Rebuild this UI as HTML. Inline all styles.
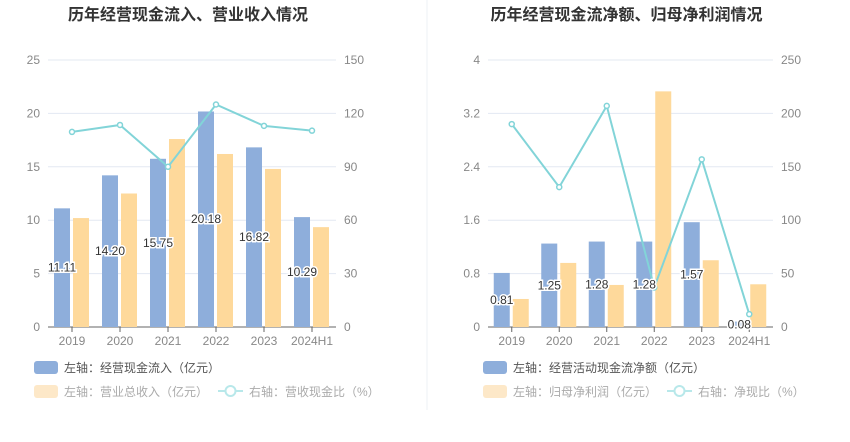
<!DOCTYPE html>
<html><head><meta charset="utf-8"><style>
body{margin:0;background:#fff;font-family:"Liberation Sans","Noto Sans CJK SC",sans-serif;}
svg text{font-family:"Liberation Sans","Noto Sans CJK SC",sans-serif;}
</style></head><body>
<svg id="c" width="850" height="437">
<line x1="427" y1="0" x2="427" y2="410" stroke="#eef0f4"/>
</svg>
<script>
const cats=["2019","2020","2021","2022","2023","2024H1"];
const inflow=[11.11,14.20,15.75,20.18,16.82,10.29];
const revenue=[10.2,12.5,17.6,16.2,14.8,9.35];
const ratioL=[109.6,113.5,90,125,113,110.3];
const netCash=[0.81,1.25,1.28,1.28,1.57,0.08];
const profit=[0.42,0.96,0.63,3.53,1.0,0.64];
const ratioR=[190,131,207,37,157,12];
const leftTicksA=[0,5,10,15,20,25], rightTicksA=[0,30,60,90,120,150];
const leftTicksB=["0","0.8","1.6","2.4","3.2","4"], rightTicksB=[0,50,100,150,200,250];
const svg=document.getElementById('c');
const NS="http://www.w3.org/2000/svg";
function mk(t,a,txt){const e=document.createElementNS(NS,t);for(const k in a)e.setAttribute(k,a[k]);if(txt!==undefined)e.textContent=txt;svg.appendChild(e);return e;}
function chart(o){
 const y0=327,y1=60,x0=o.x0,x1=o.x1,cw=(x1-x0)/cats.length;
 const yL=v=>y0-(v/o.lmax)*(y0-y1), yR=v=>y0-(v/o.rmax)*(y0-y1);
 let t=mk('text',{x:(x0+x1)/2-4,y:20,'text-anchor':'middle','font-size':16,'font-weight':'bold',fill:'#333'},o.title);
 
 o.lt.forEach((lab,i)=>{const y=y0-i*(y0-y1)/5;
  if(i>0){const g=mk('line',{x1:x0,x2:x1,y1:y,y2:y,stroke:'#e3e8f2'});}
  const a=mk('text',{x:x0-8,y:y+4,'text-anchor':'end','font-size':12,fill:'#888'},lab);
  const b=mk('text',{x:x1+8,y:y+4,'font-size':12,fill:'#888'},o.rt[i]);});
 const ax=mk('line',{x1:x0,x2:x1,y1:y0,y2:y0,stroke:'#666'});
 cats.forEach((c,i)=>{const cx=x0+cw*(i+0.5);
  const tk=mk('line',{x1:cx,x2:cx,y1:y0,y2:y0+5,stroke:'#666'});
  const l=mk('text',{x:cx,y:y0+18,'text-anchor':'middle','font-size':12,fill:'#888'},c);
  const b1=mk('rect',{x:cx-18,y:yL(o.a[i]),width:16,height:y0-yL(o.a[i]),fill:'#8eaedb'});
  const b2=mk('rect',{x:cx+1,y:yL(o.b[i]),width:16,height:y0-yL(o.b[i]),fill:'#fed99b'});
 });
 let pts=cats.map((c,i)=>[x0+cw*(i+0.5),yR(o.r[i])]);
 const pl=mk('polyline',{points:pts.map(p=>p.join(',')).join(' '),fill:'none',stroke:'#82d4d8','stroke-width':2});
 pts.forEach(p=>{const d=mk('circle',{cx:p[0],cy:p[1],r:2.5,fill:'#fff',stroke:'#82d4d8','stroke-width':1.5});});
 cats.forEach((c,i)=>{const cx=x0+cw*(i+0.5)-10;const v=o.a[i];const y=(yL(v)+y0)/2+4;
  const l=mk('text',{x:cx,y:y,'text-anchor':'middle','font-size':12,fill:'#333',stroke:'#fff','stroke-width':3,'paint-order':'stroke'},v.toFixed(2));});
 const lx=o.lx;
 let s=mk('rect',{x:lx,y:361,width:24,height:13,rx:3,fill:'#8eaedb'});
 let e=mk('text',{x:lx+30,y:372,'font-size':12,fill:'#555'},o.la);
 s=mk('rect',{x:lx,y:385,width:24,height:13,rx:3,fill:'#fde8c8'});
 e=mk('text',{x:lx+30,y:396,'font-size':12,fill:'#aaa'},o.lb);
 const l2=o.l2x;
 s=mk('line',{x1:l2,x2:l2+25,y1:391,y2:391,stroke:'#b8e8ea','stroke-width':2});
 s=mk('circle',{cx:l2+12.5,cy:391,r:5,fill:'#fff',stroke:'#b8e8ea','stroke-width':2});
 e=mk('text',{x:l2+31,y:396,'font-size':12,fill:'#aaa'},o.lc);
}
chart({x0:48,x1:336,lmax:25,rmax:150,lt:leftTicksA.map(String),rt:rightTicksA,a:inflow,b:revenue,r:ratioL,an:'inflow',bn:'revenue',title:'历年经营现金流入、营业收入情况',lx:34,l2x:218,la:'左轴：经营现金流入（亿元）',lb:'左轴：营业总收入（亿元）',lc:'右轴：营收现金比（%）'});
chart({x0:488,x1:773,lmax:4,rmax:250,lt:leftTicksB,rt:rightTicksB,a:netCash,b:profit,r:ratioR,an:'net-cash',bn:'profit',title:'历年经营现金流净额、归母净利润情况',lx:483,l2x:667,la:'左轴：经营活动现金流净额（亿元）',lb:'左轴：归母净利润（亿元）',lc:'右轴：净现比（%）'});
</script>
</body></html>
